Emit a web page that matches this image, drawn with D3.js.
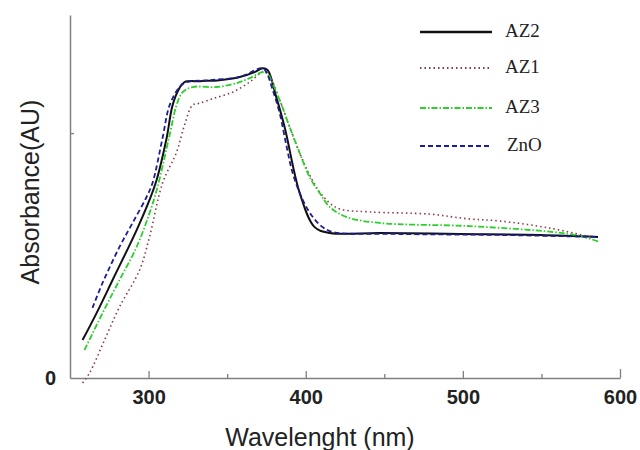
<!DOCTYPE html>
<html><head><meta charset="utf-8">
<script src="https://cdn.jsdelivr.net/npm/d3@7"></script>
<style>html,body{margin:0;padding:0;background:#fff;}svg{display:block;}</style>
</head><body>
<svg id="chart" width="640" height="450"></svg>
<script>
// wavelength (nm), absorbance (AU)
const az2 = [[258,0.155],[266.9,0.265],[277.1,0.400],[292.4,0.604],[300.6,0.727],[305.1,0.808],[311.5,0.980],[315.3,1.114],[319.7,1.184],[322.9,1.208],[332.5,1.212],[345.2,1.216],[358,1.229],[367.5,1.249],[372.6,1.265],[375.8,1.257],[380.9,1.155],[386.6,1.024],[396.2,0.755],[405.7,0.616],[415.3,0.592],[447.1,0.592],[498,0.588],[549,0.584],[586,0.576]];
const az1 = [[258,-0.020],[262.4,0.020],[272,0.155],[281.5,0.290],[294.3,0.441],[300.6,0.576],[308.9,0.796],[317.8,0.922],[322.9,1.033],[328,1.114],[332.5,1.122],[342,1.143],[353.5,1.167],[364.3,1.208],[372.6,1.249],[375.8,1.245],[383.4,1.135],[389.8,1.024],[396.2,0.918],[402.5,0.829],[408.9,0.759],[415.3,0.714],[421.7,0.690],[440.8,0.678],[479,0.669],[503,0.650],[523.6,0.641],[555.4,0.612],[580.9,0.576]];
const az3 = [[259.2,0.114],[270.7,0.265],[281.5,0.400],[292.4,0.535],[300.6,0.673],[305.7,0.780],[313.4,0.992],[317.8,1.114],[321.7,1.167],[328,1.188],[343.3,1.188],[356.1,1.204],[364.3,1.224],[372.6,1.249],[375.2,1.245],[383.4,1.135],[389.8,1.024],[396.2,0.918],[402.5,0.820],[408.9,0.755],[415.3,0.698],[426.1,0.657],[447.1,0.633],[504.5,0.620],[557.3,0.596],[574.5,0.580],[587.3,0.555]];
const zno = [[264.3,0.286],[270.7,0.388],[281.5,0.535],[289.8,0.633],[298.7,0.739],[302.5,0.796],[308.9,0.980],[313.4,1.114],[319.7,1.188],[324.2,1.208],[338.9,1.216],[358,1.229],[372.6,1.265],[375.2,1.245],[379,1.176],[383.4,1.082],[387.9,0.943],[391.7,0.837],[398.1,0.727],[404.5,0.657],[410.8,0.616],[417.2,0.596],[459.9,0.588],[523.6,0.584],[586,0.576]];
const seriesNames = ["AZ2","AZ1","AZ3","ZnO"];
const xTicks = [300,350,400,450,500,550,600];
const xTickLabels = [300,400,500,600];
const yTicks = [0,1];
const yTickLabels = [0];

const svg = d3.select("#chart");
const x = d3.scaleLinear().domain([250,600]).range([70,620]);
const y = d3.scaleLinear().domain([0,1.482]).range([378,15]);

const series = [
  {name:"AZ2", data:az2, color:"#111111", dash:null, width:2},
  {name:"AZ1", data:az1, color:"#8a3a4a", dash:"1.5,3", width:1.6},
  {name:"AZ3", data:az3, color:"#2ccf2c", dash:"6,2,1.5,2", width:1.8},
  {name:"ZnO", data:zno, color:"#1c1c96", dash:"5,3", width:1.8}
];

// axes
const axisColor = "#808080";
const xAxis = d3.axisBottom(x).tickValues(xTicks)
  .tickSize(0).tickFormat(d => xTickLabels.includes(d) ? d : "");
const gx = svg.append("g").attr("transform","translate(0,378)").call(xAxis);
gx.select(".domain").attr("stroke",axisColor).attr("stroke-width",1.5);
gx.selectAll(".tick line").remove();
gx.selectAll(".tick").append("line")
  .attr("y1",0).attr("y2",d => d===600 ? -9 : (xTickLabels.includes(d) ? -7 : -4))
  .attr("stroke",axisColor).attr("stroke-width",1.3);
gx.selectAll(".tick text").attr("y",12).attr("dy","0.71em")
  .attr("font-family","Liberation Sans, Arial, sans-serif").attr("font-size",20)
  .attr("font-weight","bold").attr("fill","#222");

const yAxis = d3.axisLeft(y).tickValues(yTicks).tickSize(0)
  .tickFormat(d => yTickLabels.includes(d) ? d : "");
const gy = svg.append("g").attr("transform","translate(70,0)").call(yAxis);
gy.select(".domain").attr("stroke",axisColor).attr("stroke-width",1.5);
gy.selectAll(".tick").append("line").attr("x1",0).attr("x2",d=>d===0?0:4)
  .attr("stroke",axisColor).attr("stroke-width",1.3);
gy.selectAll(".tick text").attr("x",-14)
  .attr("font-family","Liberation Sans, Arial, sans-serif").attr("font-size",20)
  .attr("font-weight","bold").attr("fill","#222");

// titles
svg.append("text").attr("x",320).attr("y",446).attr("text-anchor","middle")
  .attr("font-family","Liberation Sans, Arial, sans-serif").attr("font-size",25)
  .attr("fill","#222").text("Wavelenght (nm)");
svg.append("text").attr("transform","translate(39,192) rotate(-90)").attr("text-anchor","middle")
  .attr("font-family","Liberation Sans, Arial, sans-serif").attr("font-size",25)
  .attr("fill","#222").text("Absorbance(AU)");

// lines
const line = d3.line().x(d=>x(d[0])).y(d=>y(d[1])).curve(d3.curveCatmullRom.alpha(0.5));
series.forEach(s => {
  svg.append("path").datum(s.data).attr("d",line).attr("fill","none")
    .attr("stroke",s.color).attr("stroke-width",s.width)
    .attr("stroke-dasharray",s.dash);
});

// legend
const legY = [32,68,108,146];
const leg = svg.append("g");
series.forEach((s,i) => {
  leg.append("line").attr("x1",420).attr("x2",492).attr("y1",legY[i]).attr("y2",legY[i])
    .attr("stroke",s.color).attr("stroke-width",s.name==="AZ2"?2.4:1.8)
    .attr("stroke-dasharray",s.dash);
  leg.append("text").attr("x",i===3?507:505).attr("y",legY[i]-2).attr("dy","0.35em")
    .attr("font-family","Liberation Serif, Times New Roman, serif").attr("font-size",19)
    .attr("fill","#222").text(s.name);
});
</script>
</body></html>
